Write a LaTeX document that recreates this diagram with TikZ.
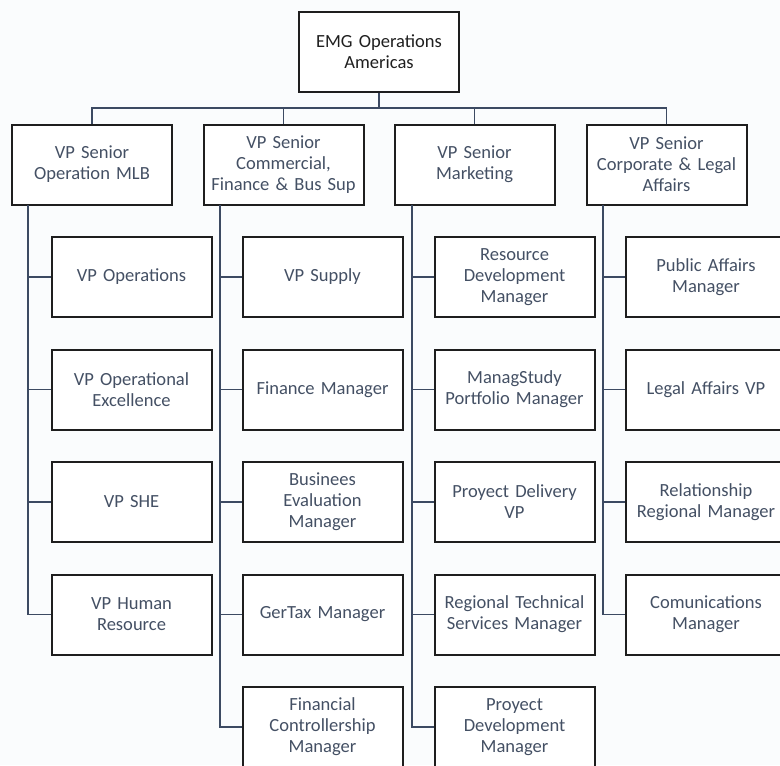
\documentclass[tikz,border=0pt]{standalone}
\usepackage{fontspec}
\setmainfont{Carlito}
\definecolor{pagebg}{RGB}{250,252,253}
\definecolor{txtblue}{RGB}{68,80,100}
\definecolor{wire}{RGB}{60,74,98}
\definecolor{frame}{RGB}{30,30,30}
\begin{document}
\begin{tikzpicture}[x=0.75pt,y=-0.75pt,
  orgbox/.style={draw=frame,line width=1.5pt,fill=white,rectangle,
    minimum width=119pt,minimum height=60pt,inner sep=1pt,
    align=center,text width=118pt,text=txtblue,
    font=\fontsize{13.9}{15.75}\selectfont},
  topbox/.style={orgbox,text=black!88},
  wireline/.style={draw=wire,line width=1.1pt}]
  % page area
  \fill[pagebg] (0,0) rectangle (780,765);
  \useasboundingbox (0,0) rectangle (780,765);

  % head of the chart
  \node[topbox] (top) at (379,52) {EMG Operations\\Americas};

  % senior vice presidents
  \node[orgbox] (a) at (92,164.5)  {VP Senior\\Operation MLB};
  \node[orgbox] (b) at (283.5,164.5) {VP Senior\\Commercial,\\Finance \& Bus Sup};
  \node[orgbox] (c) at (474.5,164.5) {VP Senior\\Marketing};
  \node[orgbox] (d) at (666.5,164.5) {VP Senior\\Corporate \& Legal\\Affairs};

  % operations branch
  \node[orgbox] (a1) at (131.5,277)   {VP Operations};
  \node[orgbox] (a2) at (131.5,389.5) {VP Operational\\Excellence};
  \node[orgbox] (a3) at (131.5,502)   {VP SHE};
  \node[orgbox] (a4) at (131.5,614.5) {VP Human\\Resource};

  % commercial and finance branch
  \node[orgbox] (b1) at (322.5,277)   {VP Supply};
  \node[orgbox] (b2) at (322.5,389.5) {Finance Manager};
  \node[orgbox] (b3) at (322.5,502)   {Businees\\Evaluation\\Manager};
  \node[orgbox] (b4) at (322.5,614.5) {GerTax Manager};
  \node[orgbox] (b5) at (322.5,727)   {Financial\\Controllership\\Manager};

  % marketing branch
  \node[orgbox] (c1) at (514.5,277)   {Resource\\Development\\Manager};
  \node[orgbox] (c2) at (514.5,389.5) {ManagStudy\\Portfolio Manager};
  \node[orgbox] (c3) at (514.5,502)   {Proyect Delivery\\VP};
  \node[orgbox] (c4) at (514.5,614.5) {Regional Technical\\Services Manager};
  \node[orgbox] (c5) at (514.5,727)   {Proyect\\Development\\Manager};

  % corporate and legal branch
  \node[orgbox] (d1) at (706,277)   {Public Affairs\\Manager};
  \node[orgbox] (d2) at (706,389.5) {Legal Affairs VP};
  \node[orgbox] (d3) at (706,502)   {Relationship\\Regional Manager};
  \node[orgbox] (d4) at (706,614.5) {Comunications\\Manager};

  % connectors from the head to the senior level
  \coordinate (bus) at (379,108);
  \draw[wireline] (top.south) -- (bus);
  \foreach \n in {a,b,c,d} \draw[wireline] (bus) -| (\n.north);

  % spines down each branch
  \coordinate (sa) at (28,205);
  \coordinate (sb) at (220,205);
  \coordinate (sc) at (412,205);
  \coordinate (sd) at (603,205);
  \foreach \n in {a1,a2,a3,a4} \draw[wireline] (sa) |- (\n.west);
  \foreach \n in {b1,b2,b3,b4,b5} \draw[wireline] (sb) |- (\n.west);
  \foreach \n in {c1,c2,c3,c4,c5} \draw[wireline] (sc) |- (\n.west);
  \foreach \n in {d1,d2,d3,d4} \draw[wireline] (sd) |- (\n.west);
\end{tikzpicture}
\end{document}
